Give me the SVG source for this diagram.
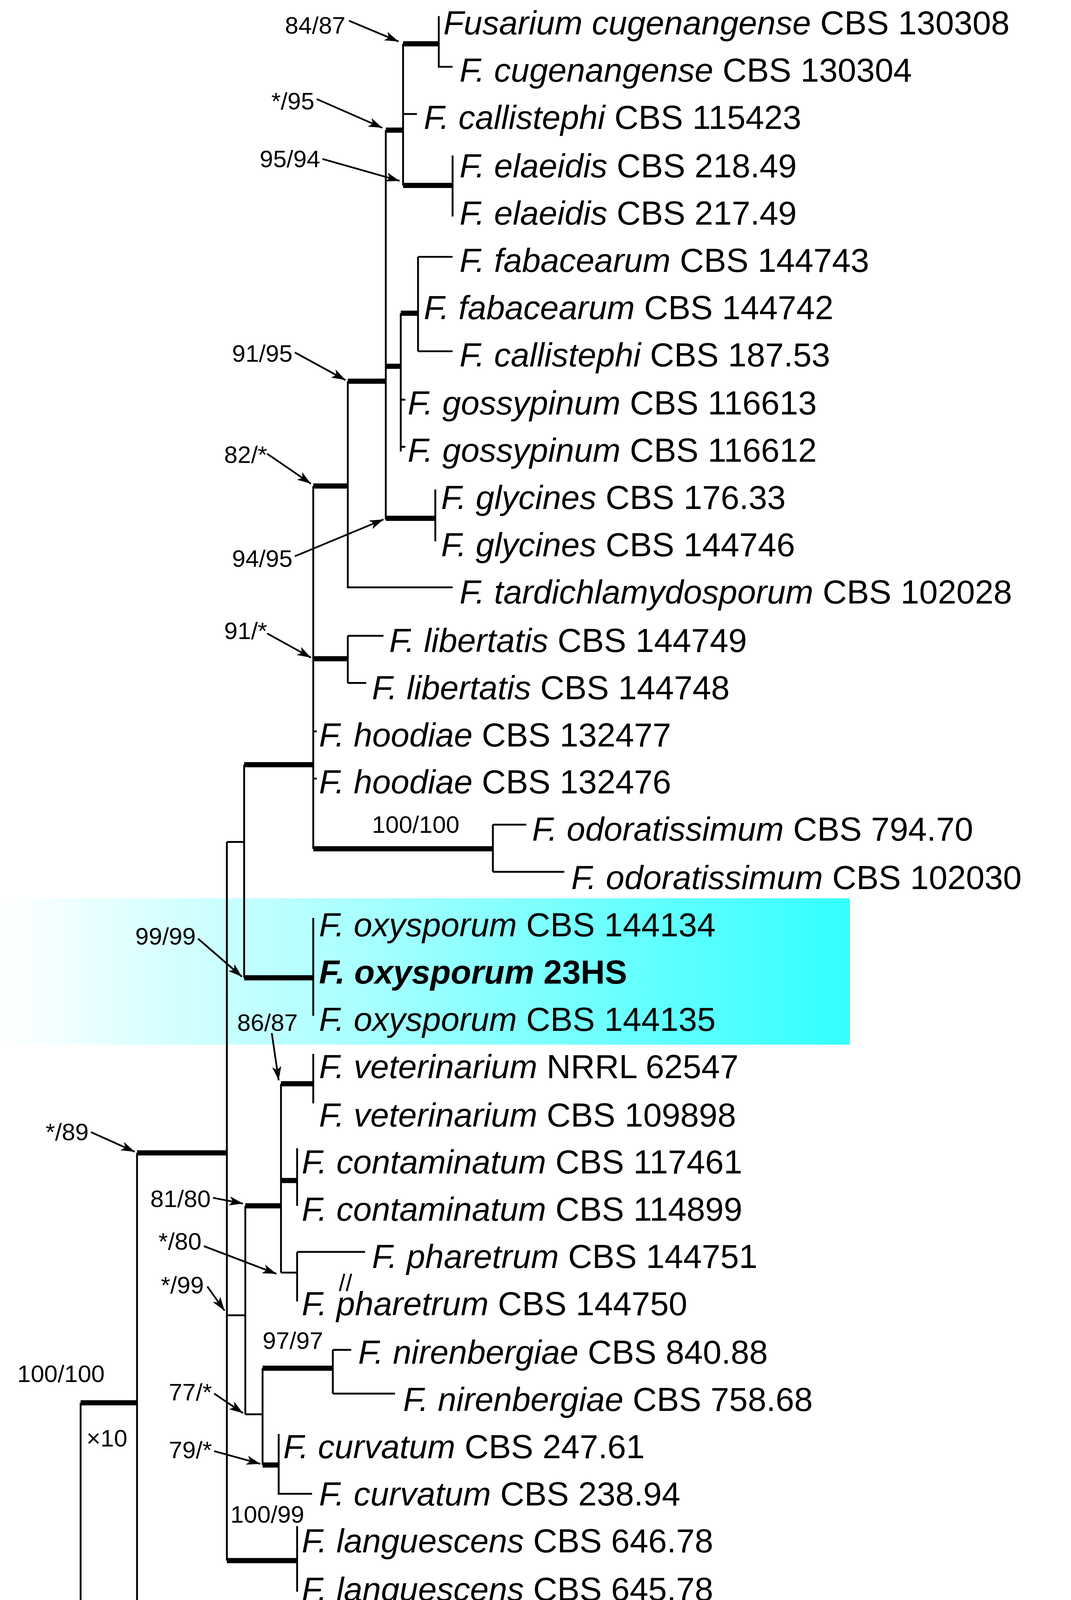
<svg xmlns="http://www.w3.org/2000/svg" width="2742" height="4636" viewBox="0 0 2742 4636">
<defs>
<linearGradient id="hl" x1="0" y1="0" x2="1" y2="0"><stop offset="0" stop-color="#ffffff"/><stop offset="1" stop-color="#33ffff"/></linearGradient>
<marker id="ar" viewBox="0 0 12 8" refX="12" refY="4" markerWidth="12" markerHeight="8" markerUnits="userSpaceOnUse" orient="auto"><path d="M0,0 L12,4 L0,8 L3,4 Z" fill="#000"/></marker>
<style>
.t{stroke:#000;stroke-width:1.6;fill:none}
.k{stroke:#000;stroke-width:4.5;fill:none}
.a{stroke:#000;stroke-width:1.5;fill:none;marker-end:url(#ar)}
.n{font-family:"Liberation Sans",Arial,sans-serif;font-size:29px;fill:#000}
.s{font-family:"Liberation Sans",Arial,sans-serif;font-size:21px;fill:#000}
.i{font-style:italic}
</style>
</defs>
<rect width="2742" height="4636" fill="#fff"/>
<g transform="scale(2.9484)">
<rect x="0" y="780" width="738" height="127" fill="url(#hl)"/>
<g id="connectors">
<path class="t" d="M381,14V58H393"/>
<path class="k" d="M350,38H381"/>
<path class="t" d="M350,38V161M350,99H362"/>
<path class="t" d="M393,135V188"/>
<path class="k" d="M350,161H393"/>
<path class="k" d="M335,113H350"/>
<path class="t" d="M335,113V451"/>
<path class="t" d="M363,223V305M363,223H393M363,305H393"/>
<path class="k" d="M348,272H363"/>
<path class="t" d="M348,272V392M348,347H352M348,388H352"/>
<path class="k" d="M335,318H348"/>
<path class="t" d="M378,425V470"/>
<path class="k" d="M335,450H378"/>
<path class="k" d="M302,331H335"/>
<path class="t" d="M302,331V510H393"/>
<path class="k" d="M272,422H302"/>
<path class="t" d="M302,552V593M302,552H333M302,593H318"/>
<path class="k" d="M272,572H302"/>
<path class="t" d="M272,422V737M272,635H275M272,676H275"/>
<path class="k" d="M272,737H428"/>
<path class="t" d="M428,716V757M428,716H457M428,757H490"/>
<path class="k" d="M212,664H272"/>
<path class="t" d="M212,664V849"/>
<path class="k" d="M212,849H272"/>
<path class="t" d="M272,797V882"/>
<path class="t" d="M197,731H212"/>
<path class="t" d="M197,731V1355"/>
<path class="k" d="M119,1001H197"/>
<path class="t" d="M197,1142H213M213,1047V1228"/>
<path class="k" d="M213,1047H244"/>
<path class="t" d="M244,941V1105"/>
<path class="k" d="M244,941H272"/>
<path class="t" d="M272,915V958"/>
<path class="k" d="M244,1025H258"/>
<path class="t" d="M258,997V1047"/>
<path class="t" d="M244,1105H258M258,1087V1130M258,1087H317"/>
<path class="t" d="M213,1228H228M228,1188V1272"/>
<path class="k" d="M228,1188H289"/>
<path class="t" d="M289,1172V1210M289,1172H305M289,1210H343"/>
<path class="k" d="M228,1272H242"/>
<path class="t" d="M242,1245V1297H271"/>
<path class="k" d="M197,1355H258"/>
<path class="t" d="M258,1325V1382"/>
<path class="t" d="M119,1001V1437"/>
<path class="k" d="M119,1437H272"/>
<path class="t" d="M272,1413V1462H300M272,1413H369"/>
<path class="k" d="M70,1218H119"/>
<path class="t" d="M70,1218V1518"/>
<path class="k" d="M70,1518H95"/>
<path class="t" d="M95,1503V1540H293M95,1503H178"/>
<path class="t" d="M284,1420L290,1406M290,1420L296,1406"/>
<path class="t" d="M132,1510L138,1496M138,1510L144,1496"/>
<path class="t" d="M295,1121L299,1106M301,1121L305,1106"/>
<path class="t" d="M663,1512H750"/>
<path class="a" d="M303,18L346,36"/>
<path class="a" d="M275,86L332,111"/>
<path class="a" d="M280,138L347,157"/>
<path class="a" d="M256,306L300,330"/>
<path class="a" d="M232,394L270,420"/>
<path class="a" d="M256,483L333,451"/>
<path class="a" d="M232,550L270,571"/>
<path class="a" d="M172,815L210,848"/>
<path class="a" d="M236,897L242,938"/>
<path class="a" d="M79,983L117,1000"/>
<path class="a" d="M185,1040L211,1045"/>
<path class="a" d="M177,1082L240,1106"/>
<path class="a" d="M180,1117L195,1138"/>
<path class="a" d="M186,1210L211,1227"/>
<path class="a" d="M186,1260L226,1271"/>
<path class="a" d="M85,1468L70,1516"/>
</g>
<g id="labels" class="s">
<text x="300" y="29" text-anchor="end">84/87</text>
<text x="273" y="95" text-anchor="end">*/95</text>
<text x="278" y="145" text-anchor="end">95/94</text>
<text x="254" y="314" text-anchor="end">91/95</text>
<text x="232" y="402" text-anchor="end">82/*</text>
<text x="254" y="492" text-anchor="end">94/95</text>
<text x="232" y="555" text-anchor="end">91/*</text>
<text x="323" y="723">100/100</text>
<text x="170" y="820" text-anchor="end">99/99</text>
<text x="206" y="895">86/87</text>
<text x="77" y="990" text-anchor="end">*/89</text>
<text x="183" y="1048" text-anchor="end">81/80</text>
<text x="175" y="1085" text-anchor="end">*/80</text>
<text x="177" y="1123" text-anchor="end">*/99</text>
<text x="228" y="1171">97/97</text>
<text x="184" y="1216" text-anchor="end">77/*</text>
<text x="184" y="1266" text-anchor="end">79/*</text>
<text x="200" y="1322">100/99</text>
<text x="15" y="1200">100/100</text>
<text x="75" y="1256">×10</text>
<text x="135" y="1423">100/100</text>
<text x="87" y="1469">100/100</text>
<text x="133" y="1530">×10</text>
<text x="50" y="1553">×10</text>
<text x="680" y="1543" style="font-size:18px">0.004</text>
</g>
<g id="taxa" class="n">
<text id="t1" x="385" y="30"><tspan class="i">Fusarium cugenangense</tspan> CBS 130308</text>
<text id="t2" x="399" y="71"><tspan class="i">F. cugenangense</tspan> CBS 130304</text>
<text id="t3" x="368" y="112"><tspan class="i">F. callistephi</tspan> CBS 115423</text>
<text id="t4" x="399" y="154"><tspan class="i">F. elaeidis</tspan> CBS 218.49</text>
<text id="t5" x="399" y="195"><tspan class="i">F. elaeidis</tspan> CBS 217.49</text>
<text id="t6" x="399" y="236"><tspan class="i">F. fabacearum</tspan> CBS 144743</text>
<text id="t7" x="368" y="277"><tspan class="i">F. fabacearum</tspan> CBS 144742</text>
<text id="t8" x="399" y="318"><tspan class="i">F. callistephi</tspan> CBS 187.53</text>
<text id="t9" x="354" y="360"><tspan class="i">F. gossypinum</tspan> CBS 116613</text>
<text id="t10" x="354" y="401"><tspan class="i">F. gossypinum</tspan> CBS 116612</text>
<text id="t11" x="383" y="442"><tspan class="i">F. glycines</tspan> CBS 176.33</text>
<text id="t12" x="383" y="483"><tspan class="i">F. glycines</tspan> CBS 144746</text>
<text id="t13" x="399" y="524"><tspan class="i">F. tardichlamydosporum</tspan> CBS 102028</text>
<text id="t14" x="338" y="566"><tspan class="i">F. libertatis</tspan> CBS 144749</text>
<text id="t15" x="323" y="607"><tspan class="i">F. libertatis</tspan> CBS 144748</text>
<text id="t16" x="277" y="648"><tspan class="i">F. hoodiae</tspan> CBS 132477</text>
<text id="t17" x="277" y="689"><tspan class="i">F. hoodiae</tspan> CBS 132476</text>
<text id="t18" x="462" y="730"><tspan class="i">F. odoratissimum</tspan> CBS 794.70</text>
<text id="t19" x="496" y="772"><tspan class="i">F. odoratissimum</tspan> CBS 102030</text>
<text id="t20" x="277" y="813"><tspan class="i">F. oxysporum</tspan> CBS 144134</text>
<text id="t21" x="277" y="854" font-weight="bold"><tspan class="i">F. oxysporum</tspan> 23HS</text>
<text id="t22" x="277" y="895"><tspan class="i">F. oxysporum</tspan> CBS 144135</text>
<text id="t23" x="277" y="936"><tspan class="i">F. veterinarium</tspan> NRRL 62547</text>
<text id="t24" x="277" y="978"><tspan class="i">F. veterinarium</tspan> CBS 109898</text>
<text id="t25" x="262" y="1019"><tspan class="i">F. contaminatum</tspan> CBS 117461</text>
<text id="t26" x="262" y="1060"><tspan class="i">F. contaminatum</tspan> CBS 114899</text>
<text id="t27" x="323" y="1101"><tspan class="i">F. pharetrum</tspan> CBS 144751</text>
<text id="t28" x="262" y="1142"><tspan class="i">F. pharetrum</tspan> CBS 144750</text>
<text id="t29" x="311" y="1184"><tspan class="i">F. nirenbergiae</tspan> CBS 840.88</text>
<text id="t30" x="350" y="1225"><tspan class="i">F. nirenbergiae</tspan> CBS 758.68</text>
<text id="t31" x="246" y="1266"><tspan class="i">F. curvatum</tspan> CBS 247.61</text>
<text id="t32" x="277" y="1307"><tspan class="i">F. curvatum</tspan> CBS 238.94</text>
<text id="t33" x="262" y="1348"><tspan class="i">F. languescens</tspan> CBS 646.78</text>
<text id="t34" x="262" y="1390"><tspan class="i">F. languescens</tspan> CBS 645.78</text>
<text id="t35" x="373" y="1431"><tspan class="i">F. triseptatum</tspan> CBS 258.50</text>
<text id="t36" x="306" y="1472"><tspan class="i">F. triseptatum</tspan> CBS 116619</text>
<text id="t37" x="183" y="1513"><tspan class="i">F. udum</tspan> CBS 177.31</text>
<text id="t38" x="299" y="1554"><tspan class="i">F. foetens</tspan> CBS 120665</text>
</g>
</g>
</svg>
